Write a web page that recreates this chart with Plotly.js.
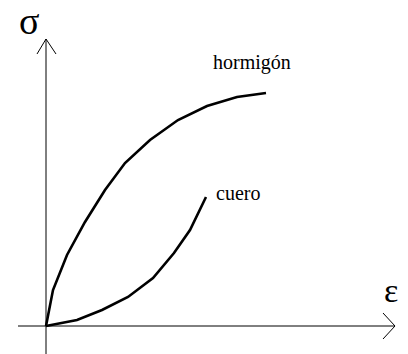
<!DOCTYPE html>
<html><head><meta charset="utf-8">
<script src="https://cdn.plot.ly/plotly-3.0.1.min.js"></script>
<style>html,body{margin:0;padding:0;background:#fff}#chart{width:408px;height:354px}</style>
</head><body><div id="chart"></div>
<script>
// strain (ε) and stress (σ) in arbitrary units, origin at (0,0)
const hormigonStrain = [0, 7, 21, 39, 59, 79, 104, 132, 161, 191, 220];
const hormigonStress = [0, 36, 71, 104, 136, 163, 186, 206, 220, 229, 233];
const cueroStrain = [0, 31, 56, 82, 107, 128, 144, 160];
const cueroStress = [0, 6, 16, 29, 48, 73, 96, 129];
const labels = ["hormigón", "cuero"];

const serif = 'Liberation Serif, Times New Roman, serif';
const traces = [
  {x: hormigonStrain, y: hormigonStress, mode: 'lines', line: {color: '#000', width: 2.6}, hoverinfo: 'skip'},
  {x: cueroStrain, y: cueroStress, mode: 'lines', line: {color: '#000', width: 2.6}, hoverinfo: 'skip'}
];
const ln = {color: '#000', width: 1};
const layout = {
  width: 408, height: 354,
  margin: {l: 0, r: 0, t: 0, b: 0},
  paper_bgcolor: '#fff', plot_bgcolor: '#fff',
  showlegend: false,
  xaxis: {range: [-46, 362], visible: false, fixedrange: true},
  yaxis: {range: [-28, 326], visible: false, fixedrange: true},
  shapes: [
    {type: 'line', x0: -28, y0: 0, x1: 349, y1: 0, line: ln},
    {type: 'line', x0: 337, y0: 13, x1: 349, y1: 0, line: ln},
    {type: 'line', x0: 337, y0: -13, x1: 349, y1: 0, line: ln},
    {type: 'line', x0: 0, y0: -29, x1: 0, y1: 287, line: ln},
    {type: 'line', x0: -9, y0: 272, x1: 0, y1: 287, line: ln},
    {type: 'line', x0: 10, y0: 272, x1: 0, y1: 287, line: ln}
  ],
  annotations: [
    {x: 165, y: 264, text: labels[0], showarrow: false, xanchor: 'left', yanchor: 'middle', font: {family: serif, size: 20, color: '#000'}},
    {x: 168, y: 133, text: labels[1], showarrow: false, xanchor: 'left', yanchor: 'middle', font: {family: serif, size: 20, color: '#000'}},
    {x: -17, y: 305, text: 'σ', showarrow: false, xanchor: 'center', yanchor: 'middle', font: {family: serif, size: 38, color: '#000'}},
    {x: 345, y: 36, text: 'ε', showarrow: false, xanchor: 'center', yanchor: 'middle', font: {family: serif, size: 34, color: '#000'}}
  ]
};
Plotly.newPlot('chart', traces, layout, {staticPlot: true, displayModeBar: false});
</script></body></html>
